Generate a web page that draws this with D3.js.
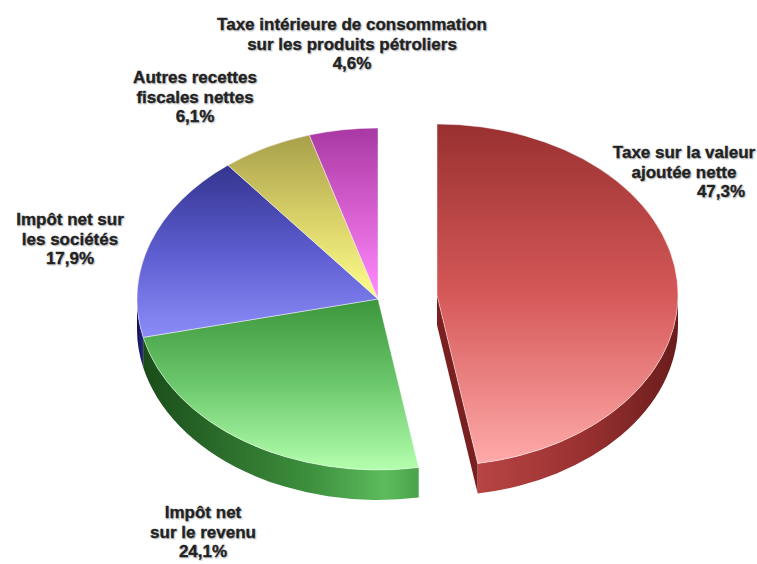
<!DOCTYPE html>
<html>
<head>
<meta charset="utf-8">
<script src="https://cdn.jsdelivr.net/npm/d3@7"></script>
<style>
  html, body { margin: 0; padding: 0; background: #fff; }
  svg { display: block; }
  text { font-family: "Liberation Sans", Arial, sans-serif; font-weight: bold; }
</style>
</head>
<body>
<svg id="chart" width="757" height="564"></svg>
<script>
// ---- Data ----
const categories = [
  "Taxe sur la valeur ajoutée nette",
  "Impôt net sur le revenu",
  "Impôt net sur les sociétés",
  "Autres recettes fiscales nettes",
  "Taxe intérieure de consommation sur les produits pétroliers"
];
const values = [47.3, 24.1, 17.9, 6.1, 4.6];
const labelLines = [
  ["Taxe sur la valeur", "ajoutée nette"],
  ["Impôt net", "sur le revenu"],
  ["Impôt net sur", "les sociétés"],
  ["Autres recettes", "fiscales nettes"],
  ["Taxe intérieure de consommation", "sur les produits pétroliers"]
];
const exploded = [true, false, false, false, false];

// ---- Styles / layout ----
const topColors = [
  ["#993030", "#d55858", "#ffaaaa"],
  ["#3c963c", "#6cc86c", "#b4ffae"],
  ["#34348f", "#5c5cd0", "#8c8cf8"],
  ["#a8a04a", "#d8d068", "#ffff8c"],
  ["#a838a4", "#d860d0", "#ff8cff"]
];
const sideColors = [
  ["#b84444", "#983030", "#6a1c1c"],
  ["#1a4c1a", "#3d8f3d", "#5cbc5c", "#4aa34a"],
  ["#101050", "#1c1c6a", "#2a2a80"],
  ["#6a6420", "#807a30", "#908a40"],
  ["#6a1a64", "#7a2a74", "#8a3a84"]
];
const sideStops = [
  [0, 0.55, 1],
  [0, 0.6, 0.88, 1],
  [0, 0.5, 1],
  [0, 0.5, 1],
  [0, 0.5, 1]
];
const labelPos = [
  {x: 684, y: 158, pctX: 721},
  {x: 203, y: 518},
  {x: 70, y: 225},
  {x: 195, y: 83},
  {x: 352, y: 30}
];
const cx = 378, cy = 299, rx = 241, ry = 171, depth = 30;
const explodeOffset = {dx: 59, dy: -4};
const lineH = 19.5;

const svg = d3.select("#chart");
const defs = svg.append("defs");

const pie = d3.pie().sort(null).value(d => d)(values);

const pt = (a, ox, oy) => [ox + rx * Math.sin(a), oy - ry * Math.cos(a)];

// gradients
pie.forEach((d, i) => {
  const g = defs.append("linearGradient").attr("id", "top" + i)
    .attr("x1", 0).attr("y1", 0).attr("x2", 0).attr("y2", 1);
  topColors[i].forEach((c, k) => g.append("stop").attr("offset", k / (topColors[i].length - 1)).attr("stop-color", c));
  const s = defs.append("linearGradient").attr("id", "side" + i)
    .attr("x1", 0).attr("y1", 0).attr("x2", 1).attr("y2", 0);
  sideColors[i].forEach((c, k) => s.append("stop").attr("offset", sideStops[i][k]).attr("stop-color", c));
});

const gPie = svg.append("g");

pie.forEach((d, i) => {
  const ox = cx + (exploded[i] ? explodeOffset.dx : 0);
  const oy = cy + (exploded[i] ? explodeOffset.dy : 0);
  const a0 = d.startAngle, a1 = d.endAngle;
  const g = gPie.append("g");

  // radial cut face at end angle (visible for the exploded slice)
  if (exploded[i]) {
    const p = pt(a1, ox, oy);
    g.append("path")
      .attr("d", `M${ox},${oy}L${p[0]},${p[1]}L${p[0]},${p[1] + depth}L${ox},${oy + depth}Z`)
      .attr("fill", "#7a2020");
  }
  // outer side wall (front half only)
  const s0 = Math.max(a0, Math.PI / 2), s1 = Math.min(a1, 3 * Math.PI / 2);
  if (s1 > s0) {
    const p0 = pt(s0, ox, oy), p1 = pt(s1, ox, oy);
    const large = (s1 - s0) > Math.PI ? 1 : 0;
    g.append("path")
      .attr("d", `M${p0[0]},${p0[1]}A${rx},${ry} 0 ${large} 1 ${p1[0]},${p1[1]}` +
                 `L${p1[0]},${p1[1] + depth}A${rx},${ry} 0 ${large} 0 ${p0[0]},${p0[1] + depth}Z`)
      .attr("fill", `url(#side${i})`);
  }
  // top face
  const q0 = pt(a0, ox, oy), q1 = pt(a1, ox, oy);
  const largeT = (a1 - a0) > Math.PI ? 1 : 0;
  g.append("path")
    .attr("d", `M${ox},${oy}L${q0[0]},${q0[1]}A${rx},${ry} 0 ${largeT} 1 ${q1[0]},${q1[1]}Z`)
    .attr("fill", `url(#top${i})`)
    .attr("stroke", "rgba(255,255,255,0.45)")
    .attr("stroke-width", 1)
    .attr("stroke-linejoin", "round");
});

// labels
const fmt = v => d3.format(".1f")(v).replace(".", ",") + "%";
const gLab = svg.append("g").attr("font-size", 17).attr("text-anchor", "middle");
pie.forEach((d, i) => {
  const lp = labelPos[i];
  const lines = labelLines[i].map((t, k) => ({t, x: lp.x, y: lp.y + k * lineH}));
  lines.push({t: fmt(values[i]), x: lp.pctX || lp.x, y: lp.y + labelLines[i].length * lineH});
  lines.forEach(l => {
    gLab.append("text").attr("x", l.x + 1).attr("y", l.y + 1).attr("fill", "#c4c4c4")
      .attr("stroke", "#d8d8d8").attr("stroke-width", 1).text(l.t);
    gLab.append("text").attr("x", l.x).attr("y", l.y).attr("fill", "#222")
      .attr("stroke", "#222").attr("stroke-width", 0.35).text(l.t);
  });
});
</script>
</body>
</html>
